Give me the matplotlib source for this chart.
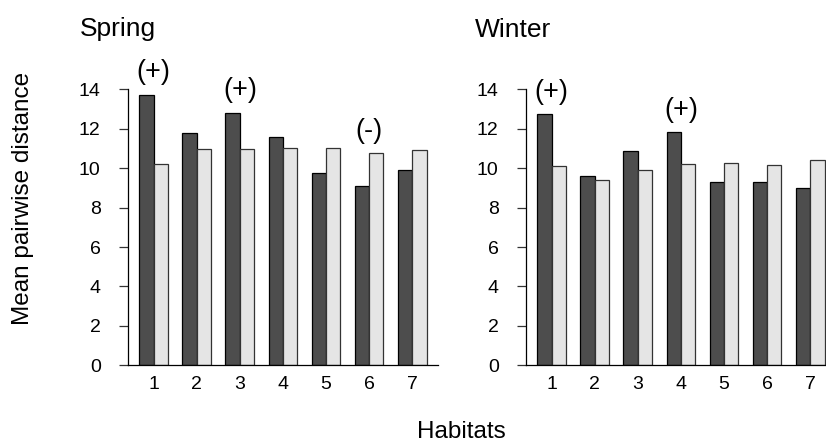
import matplotlib
matplotlib.use("Agg")
import matplotlib.pyplot as plt
import numpy as np

plt.rcParams['font.family'] = ['Liberation Sans', 'DejaVu Sans']

habitats = ["1", "2", "3", "4", "5", "6", "7"]
spring_dark = [13.71, 11.78, 12.79, 11.57, 9.74, 9.10, 9.90]
spring_light = [10.23, 10.97, 10.97, 11.01, 11.01, 10.75, 10.90]
winter_dark = [12.73, 9.60, 10.89, 11.81, 9.30, 9.30, 8.98]
winter_light = [10.10, 9.40, 9.90, 10.23, 10.28, 10.18, 10.40]
spring_marks = {0: "(+)", 2: "(+)", 5: "(-)"}
winter_marks = {0: "(+)", 3: "(+)"}
yticks = [0, 2, 4, 6, 8, 10, 12, 14]

W, H = 826, 446
fig = plt.figure(figsize=(W / 100, H / 100), dpi=100)

dark_col = "#4d4d4d"
light_col = "#e5e5e5"


def panel(left_px, dark, light, marks):
    ax = fig.add_axes([left_px / W, (H - 365.3) / H, 310.2 / W, 276.0 / H])
    n = len(dark)
    idx = np.arange(n)
    xd = 1.5 + 3 * idx
    xl = 2.5 + 3 * idx
    ax.bar(xd, dark, width=1.0, color=dark_col, edgecolor="black", linewidth=0.9)
    ax.bar(xl, light, width=1.0, color=light_col, edgecolor="#333333", linewidth=0.9)
    ax.set_xlim(0.2, 21.8)
    ax.set_ylim(0, 14)
    ax.set_xticks(2 + 3 * idx)
    ax.set_xticklabels(habitats)
    ax.set_yticks(yticks)
    ax.tick_params(axis='x', length=0, pad=8, labelsize=14)
    ax.tick_params(axis='y', length=6.5, width=0.9, pad=13, labelsize=14,
                   color="#333333")
    for s in ["top", "right"]:
        ax.spines[s].set_visible(False)
    ax.spines["left"].set_bounds(0, 14)
    ax.spines["left"].set_linewidth(0.9)
    ax.spines["bottom"].set_linewidth(0.9)
    for i, t in marks.items():
        ax.text(2 + 3 * i, max(dark[i], light[i]) + 1.15, t, ha="center",
                va="center", fontsize=19.5, clip_on=False)
    return ax


panel(127.8, spring_dark, spring_light, spring_marks)
panel(525.8, winter_dark, winter_light, winter_marks)

fig.text(80 / W, 1 - 36 / H, "Spring", ha="left", va="baseline", fontsize=19)
fig.text(475 / W, 1 - 37 / H, "Winter", ha="left", va="baseline", fontsize=19)
fig.text(23 / W, 1 - 198 / H, "Mean pairwise distance", rotation=90,
         ha="center", va="center", fontsize=17.5)
fig.text(461.7 / W, 1 - 432 / H, "Habitats", ha="center", va="center",
         fontsize=17.5)

fig.savefig("out.png", dpi=100)
